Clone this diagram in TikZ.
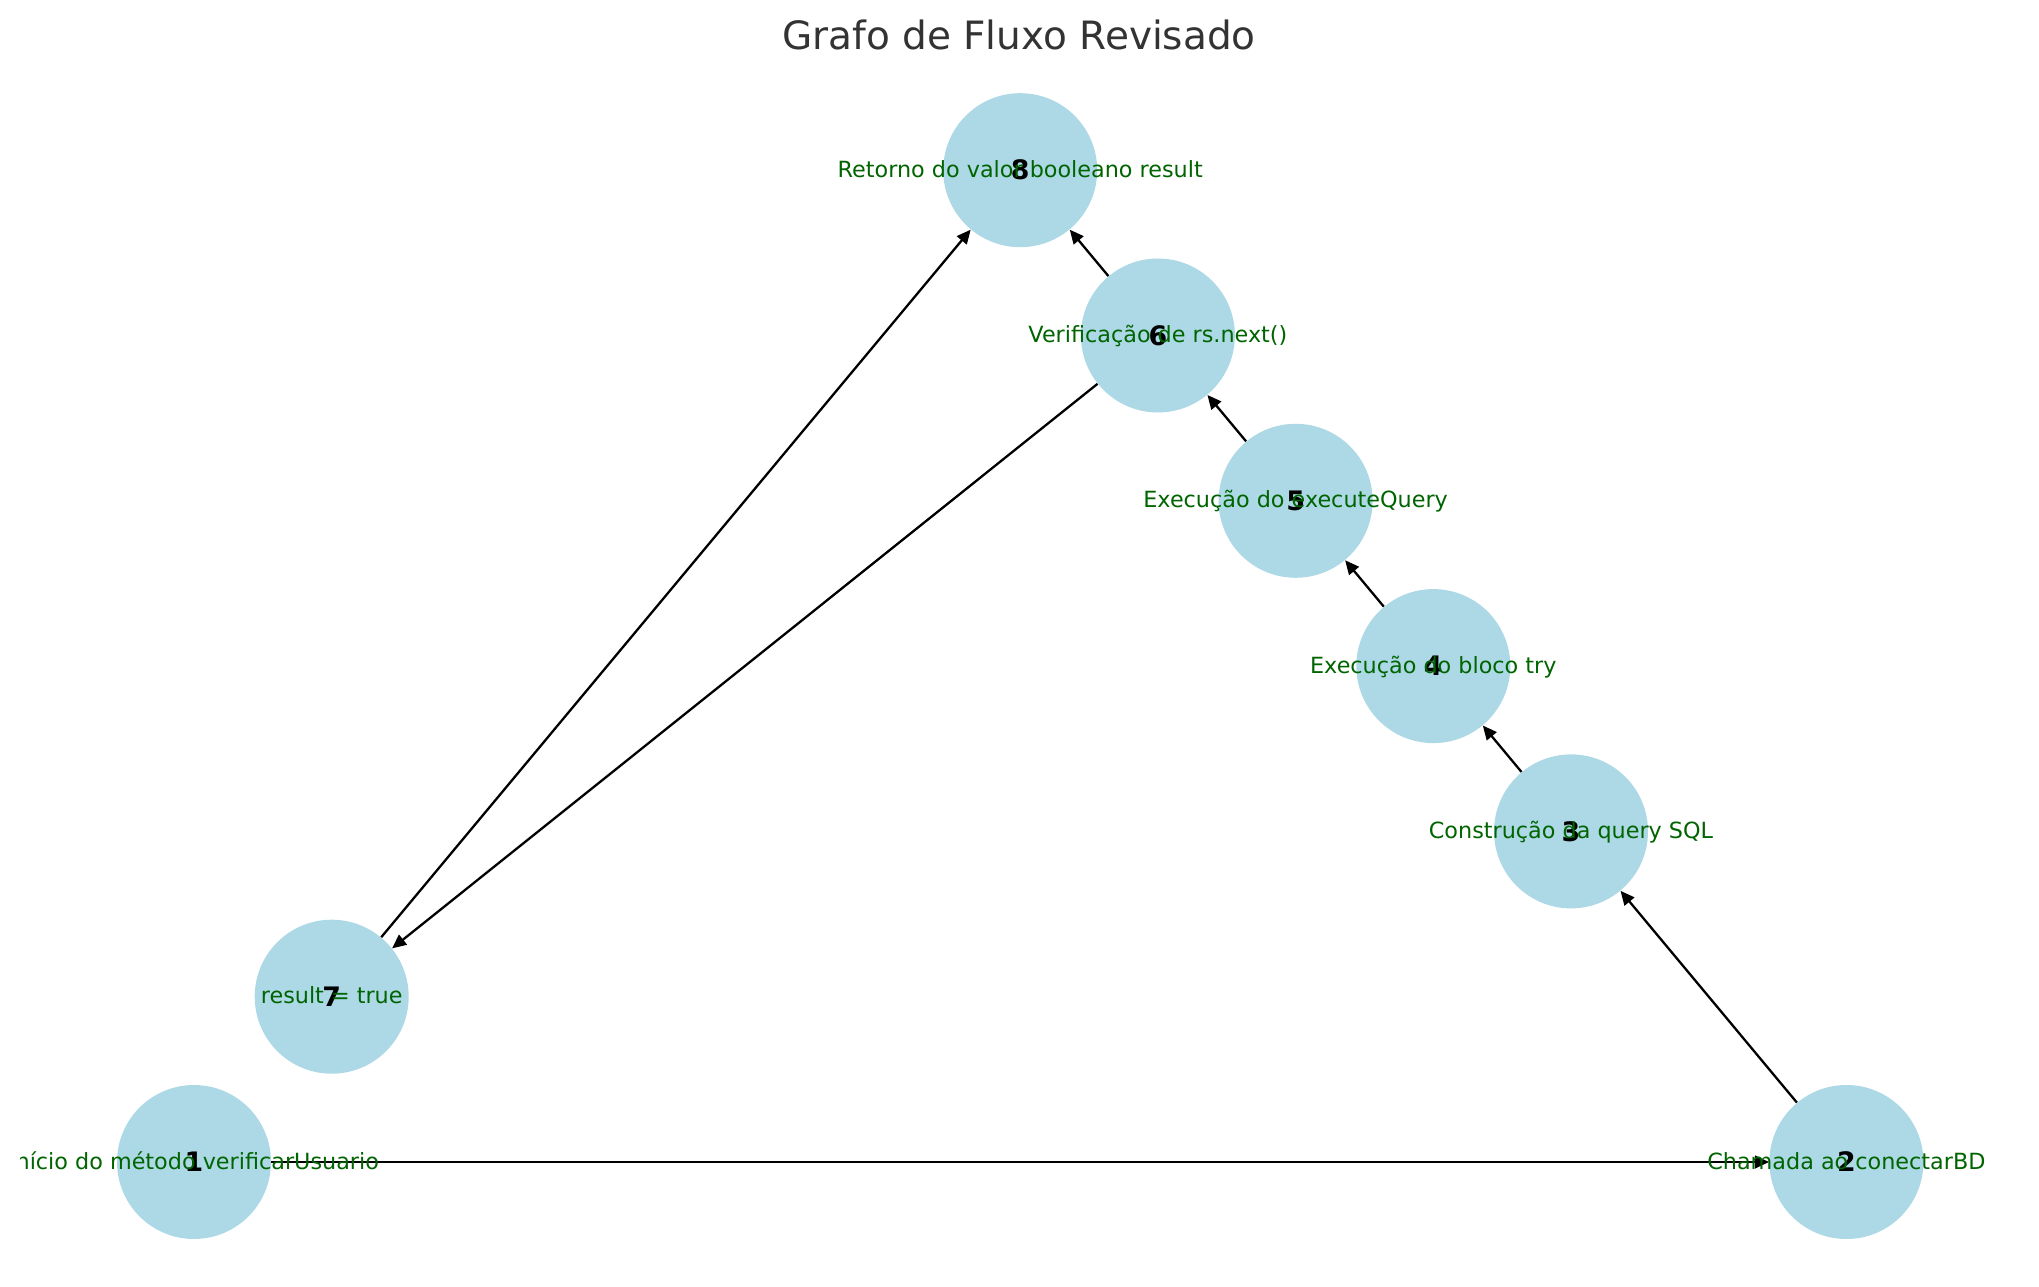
\documentclass[tikz,border=0pt]{standalone}
\usepackage{fontspec}
\setmainfont{DejaVu Sans}
\usetikzlibrary{positioning,arrows.meta}
\definecolor{nodeblue}{HTML}{ADD8E6}
\definecolor{labelgreen}{HTML}{006400}
\definecolor{titlegray}{HTML}{333333}

\begin{document}
\begin{tikzpicture}[x=1pt,y=1pt,on grid,
		state/.style={circle,fill=nodeblue,minimum size=77pt,inner sep=0pt,
			font=\fontsize{13.4}{16}\selectfont\bfseries},
		desc/.style={text=labelgreen,inner sep=0pt,anchor=base,yshift=-3.5pt,
			font=\fontsize{11.15}{13}\selectfont},
		flow/.style={-{Triangle[length=7pt,width=6.3pt]},line width=1.15pt}]
			\useasboundingbox (0,0) rectangle (1019.5,643);
			\node[anchor=base,text=titlegray,font=\fontsize{19.5}{23}\selectfont] (title) at (509.5,618) {Grafo de Fluxo Revisado};
			
			\node[state] (n1) at (97,62) {1};
			\node[state,right=826.2pt of n1] (n2) {2};
			\node[state,above left=165.3pt and 137.7pt of n2] (n3) {3};
			\node[state,above left=82.65pt and 68.85pt of n3] (n4) {4};
			\node[state,above left=82.65pt and 68.85pt of n4] (n5) {5};
			\node[state,above left=82.65pt and 68.85pt of n5] (n6) {6};
			\node[state,above right=82.65pt and 68.85pt of n1] (n7) {7};
			\node[state,above left=82.65pt and 68.85pt of n6] (n8) {8};
			
			\draw[flow] (n1) -- (n2);
			\draw[flow] (n2) -- (n3);
			\draw[flow] (n3) -- (n4);
			\draw[flow] (n4) -- (n5);
			\draw[flow] (n5) -- (n6);
			\draw[flow] (n6) -- (n8);
			\draw[flow] (n6) -- (n7);
			\draw[flow] (n7) -- (n8);
			
			% descricoes (cortadas na borda esquerda do eixo)
			\begin{scope}
				\clip (10,0) rectangle (1019.5,643);
				\node[desc] (l1) at (n1) {Início do método verificarUsuario};
				\node[desc] (l2) at (n2) {Chamada ao conectarBD};
				\node[desc] (l3) at (n3) {Construção da query SQL};
				\node[desc] (l4) at (n4) {Execução do bloco try};
				\node[desc] (l5) at (n5) {Execução do executeQuery};
				\node[desc] (l6) at (n6) {Verificação de rs.next()};
				\node[desc] (l7) at (n7) {result = true};
				\node[desc] (l8) at (n8) {Retorno do valor booleano result};
			\end{scope}
\end{tikzpicture}
\end{document}
